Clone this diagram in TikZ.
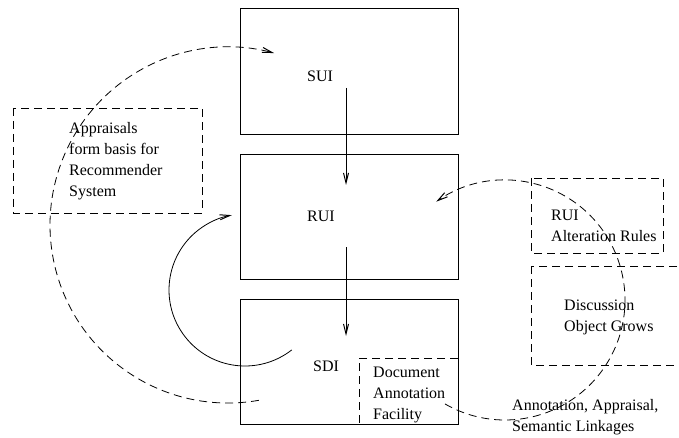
\documentclass[tikz,border=0pt]{standalone}
\usepackage{fontspec}
\setmainfont{Liberation Serif}
\usetikzlibrary{arrows.meta}
\tikzset{
  box/.style={draw, line width=0.8pt, inner sep=0pt, anchor=north west},
  dashbox/.style={draw, line width=0.8pt, dash pattern=on 8pt off 5pt},
  lbl/.style={inner sep=0pt, align=left, anchor=west},
  arr/.style={line width=0.8pt, -{Straight Barb[length=10pt, width=5pt, line width=1pt]}},
  darr/.style={arr, dash pattern=on 8pt off 5pt}
}
\begin{document}
\begin{tikzpicture}[x=1pt, y=-1pt, font=\fontsize{16}{21}\selectfont]
				\useasboundingbox (0,0) rectangle (679,438);
				\clip (0,0) rectangle (679,438);
				% main boxes
				\node[box, minimum width=218, minimum height=126] (suibox) at (240,8) {};
				\node[box, minimum width=218, minimum height=125] (ruibox) at (240,154) {};
				\node[box, minimum width=218, minimum height=125] (sdibox) at (240,299) {};
				\node[lbl] (sui) at (307,76) {SUI};
				\node[lbl] (rui) at (307,216) {RUI};
				\node[lbl] (sdi) at (313,366) {SDI};
				% dashed boxes
				\draw[dashbox] (13,108) rectangle (202,213);
				\draw[dashbox] (531,178) rectangle (663,253);
				\draw[dashbox] (531,266) rectangle (700,365);
				\draw[dashbox] (458,358) -- (359,358) -- (359,424);
				\node[lbl] (appr) at (69,161.5) {Appraisals\\form basis for\\Recommender\\System};
				\node[lbl] (alter) at (551,226) {RUI\\Alteration Rules};
				\node[lbl] (disc) at (564,317.5) {Discussion\\Object Grows};
				\node[lbl] (docann) at (373,395) {Document\\Annotation\\Facility};
				\node[lbl] (links) at (512,417) {Annotation, Appraisal,\\Semantic Linkages};
				% flow between the interfaces
				\coordinate (f1) at (346,88);
				\coordinate (t1) at (346,185);
				\coordinate (f2) at (346,247);
				\coordinate (t2) at (346,336);
				\draw[arr] (f1) -- (t1);
				\draw[arr] (f2) -- (t2);
				% feedback arcs
				\coordinate (cl) at (228,225);
				\coordinate (cm) at (245,290);
				\coordinate (cr) at (505,300);
				\draw[darr] (cl) ++(80:178) arc[start angle=80, end angle=285, radius=178];
				\draw[arr] (cm) ++(52:76) arc[start angle=52, end angle=260, radius=76];
				\draw[darr] (cr) ++(120:120) arc[start angle=120, end angle=-125, radius=120];
			\end{tikzpicture}
\end{document}
